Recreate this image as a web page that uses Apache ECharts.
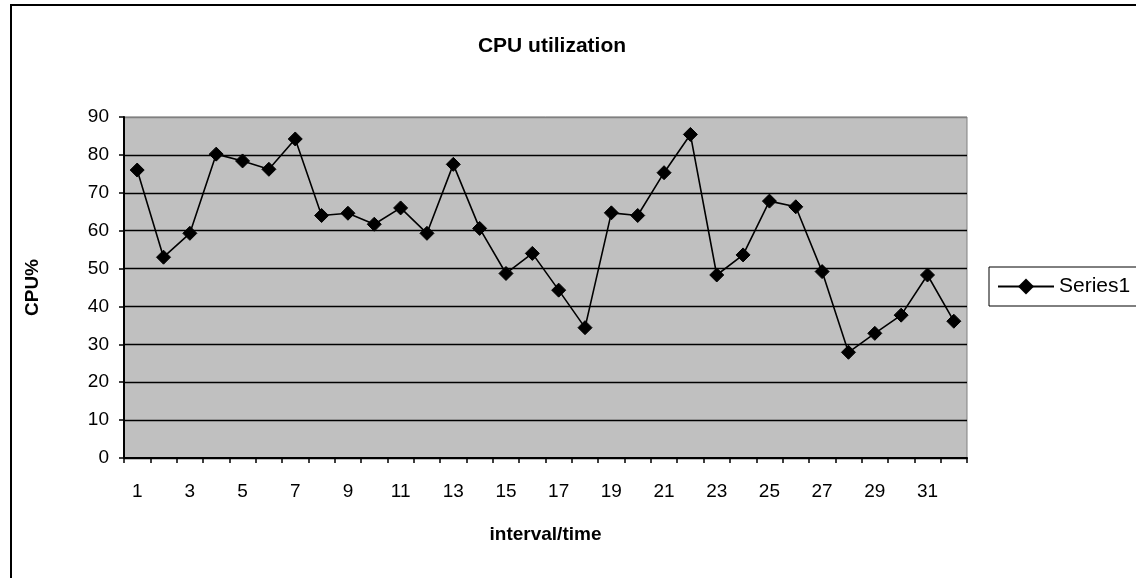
<!DOCTYPE html>
<html>
<head>
<meta charset="utf-8">
<script src="https://cdn.jsdelivr.net/npm/echarts@6/dist/echarts.min.js"></script>
<style>
html,body{margin:0;padding:0;background:#fff;}
#chart{width:1136px;height:578px;}
</style>
</head>
<body>
<div id="chart"></div>
<script>
const categories = ['1','2','3','4','5','6','7','8','9','10','11','12','13','14','15','16','17','18','19','20','21','22','23','24','25','26','27','28','29','30','31','32'];
const series1 = [76, 53, 59.3, 80.2, 78.4, 76.2, 84.2, 64, 64.6, 61.7, 66, 59.3, 77.5, 60.6, 48.7, 54, 44.3, 34.4, 64.7, 64, 75.3, 85.4, 48.3, 53.6, 67.8, 66.3, 49.2, 27.9, 32.9, 37.7, 48.3, 36.1];
const yTicks = [0, 10, 20, 30, 40, 50, 60, 70, 80, 90];

const FONT = 'Arial, "Liberation Sans", sans-serif';
const chart = echarts.init(document.getElementById('chart'), null, {renderer: 'canvas'});
chart.setOption({
  animation: false,
  backgroundColor: '#ffffff',
  graphic: [{
    type: 'rect',
    shape: {x: 11, y: 5, width: 1200, height: 640},
    style: {fill: 'none', stroke: '#000', lineWidth: 2},
    silent: true
  }],
  title: {
    text: 'CPU utilization',
    left: 547,
    top: 31,
    textAlign: 'center',
    textStyle: {fontFamily: FONT, fontSize: 21, fontWeight: 'bold', color: '#000'}
  },
  legend: {
    left: 989,
    top: 267,
    orient: 'vertical',
    padding: [9, 10, 9, 8],
    borderColor: '#000',
    borderWidth: 1,
    backgroundColor: '#fff',
    itemWidth: 56,
    itemHeight: 20,
    textStyle: {fontFamily: FONT, fontSize: 21, color: '#000'},
    data: ['Series1']
  },
  grid: {
    left: 124, right: 169, top: 117, bottom: 120,
    show: true,
    backgroundColor: '#c0c0c0',
    borderColor: '#808080',
    borderWidth: 1,
    containLabel: false
  },
  xAxis: {
    type: 'category',
    data: categories,
    boundaryGap: true,
    name: 'interval/time',
    nameLocation: 'middle',
    nameGap: 67,
    nameTextStyle: {fontFamily: FONT, fontSize: 19, fontWeight: 'bold', color: '#000'},
    axisLine: {show: true, lineStyle: {color: '#000', width: 2}},
    axisTick: {show: true, interval: 0, length: 5, inside: false, lineStyle: {color: '#000', width: 1.5}},
    axisLabel: {interval: 1, margin: 24, fontFamily: FONT, fontSize: 19, color: '#000'},
    splitLine: {show: false}
  },
  yAxis: {
    type: 'value',
    min: yTicks[0],
    max: yTicks[yTicks.length - 1],
    interval: 10,
    name: 'CPU%',
    nameLocation: 'middle',
    nameRotate: 90,
    nameGap: 82,
    nameTextStyle: {fontFamily: FONT, fontSize: 19, fontWeight: 'bold', color: '#000'},
    axisLine: {show: true, lineStyle: {color: '#000', width: 2}},
    axisTick: {show: true, length: 5, lineStyle: {color: '#000', width: 1.5}},
    axisLabel: {margin: 15, fontFamily: FONT, fontSize: 19, color: '#000'},
    splitLine: {show: true, lineStyle: {color: ['#000','#000','#000','#000','#000','#000','#000','#000','#000','#808080'], width: 1.3}}
  },
  series: [{
    name: 'Series1',
    type: 'line',
    data: series1,
    symbol: 'diamond',
    symbolSize: 14,
    showAllSymbol: true,
    lineStyle: {color: '#000', width: 1.6},
    itemStyle: {color: '#000', borderColor: '#000'},
    z: 5
  }]
});
</script>
</body>
</html>
